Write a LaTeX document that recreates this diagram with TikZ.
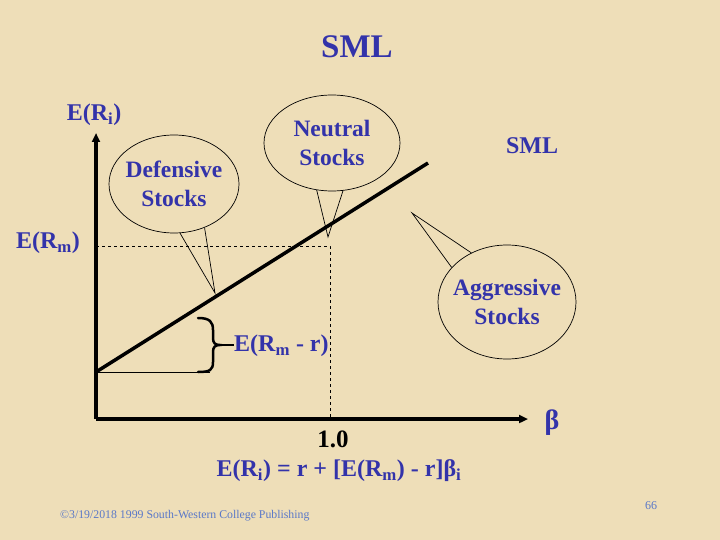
\documentclass[tikz,border=0pt]{standalone}
\usepackage{fontspec}
\setmainfont{Liberation Serif}
\usetikzlibrary{shapes.geometric,arrows.meta}
\definecolor{bg}{RGB}{238,222,184}
\definecolor{tblue}{RGB}{51,51,170}
\definecolor{lblue}{RGB}{90,120,200}
\tikzset{
  lbl/.style={text=tblue,font=\bfseries\fontsize{24}{26}\selectfont,inner sep=0pt},
  bubble/.style={ellipse,draw=black,line width=0.7pt,fill=bg,align=center,text=tblue,font=\bfseries\fontsize{23.5}{29}\selectfont,inner sep=-12pt},
  tail/.style={draw=black,line width=0.7pt},
  axis/.style={line width=3.5pt,-{Triangle[length=9pt,width=8pt]}},
  guide/.style={dashed,line width=0.8pt},
}
\begin{document}
\begin{tikzpicture}[x=1pt,y=-1pt]
\fill[bg] (0,0) rectangle (720,540);
\useasboundingbox (0,0) rectangle (720,540);
\node[lbl,font=\bfseries\fontsize{33}{35}\selectfont] (title) at (357,47) {SML};
\coordinate (O) at (96,419);
\coordinate (yt) at (96,133);
\coordinate (xt) at (528,419);
\coordinate (s0) at (96,372);
\coordinate (s1) at (428,163);
\coordinate (m) at (330,246);
\coordinate (my) at (96,246);
\coordinate (mx) at (330,419);
\coordinate (b0) at (210,372);
\draw[axis] (O) -- (yt);
\draw[axis] (O) -- (xt);
\draw[line width=3.5pt] (s0) -- (s1);
\draw[guide] (my) -- (m) -- (mx);
\draw[line width=1pt] (s0) -- (b0);
\draw[line width=2.5pt,line cap=round] (198,318) .. controls (210,318) and (213,322) .. (213,330) -- (213,338) .. controls (213,343) and (215,345) .. (220,345)
  .. controls (215,345) and (213,347) .. (213,352) -- (213,362) .. controls (213,370) and (210,372) .. (198,372);
\draw[line width=2pt] (220,345) -- (234,345);
\node[lbl,anchor=west] (erm) at (234,346) {E(R\textsubscript{m} - r)};
\node[lbl] (eri) at (94,115) {E(R\textsubscript{i})};
\node[lbl] (erm2) at (48,243) {E(R\textsubscript{m})};
\node[lbl] (sml) at (532,146) {SML};
\node[lbl,font=\bfseries\fontsize{28}{30}\selectfont] (beta) at (552,423) {β};
\node[inner sep=0pt,font=\bfseries\fontsize{25}{27}\selectfont] (one) at (333,439) {1.0};
\node[lbl] (eq) at (339,471) {E(R\textsubscript{i}) = r + [E(R\textsubscript{m}) - r]β\textsubscript{i}};
\node[inner sep=0pt,text=lblue,font=\fontsize{11.8}{13}\selectfont,anchor=west] (copy) at (60,516) {©3/19/2018 1999 South-Western College Publishing};
\node[inner sep=0pt,text=lblue,font=\fontsize{12}{13}\selectfont] (pg) at (651,506) {66};
% callouts
\coordinate (dt) at (215,293);
\coordinate (nt) at (328,237);
\coordinate (at) at (412,213);
\node[bubble,minimum width=130pt,minimum height=98pt] (def) at (174,184) {Defensive\\Stocks};
\node[bubble,minimum width=136pt,minimum height=96pt] (neu) at (332,143) {Neutral\\Stocks};
\node[bubble,minimum width=138pt,minimum height=114pt] (agg) at (507,302) {Aggressive\\Stocks};
\draw[tail] (def.-83) -- (dt) -- (def.-55);
\draw[tail] (neu.-108) -- (nt) -- (neu.-77);
\draw[tail] (agg.126) -- (at) -- (agg.148);
\end{tikzpicture}
\end{document}
